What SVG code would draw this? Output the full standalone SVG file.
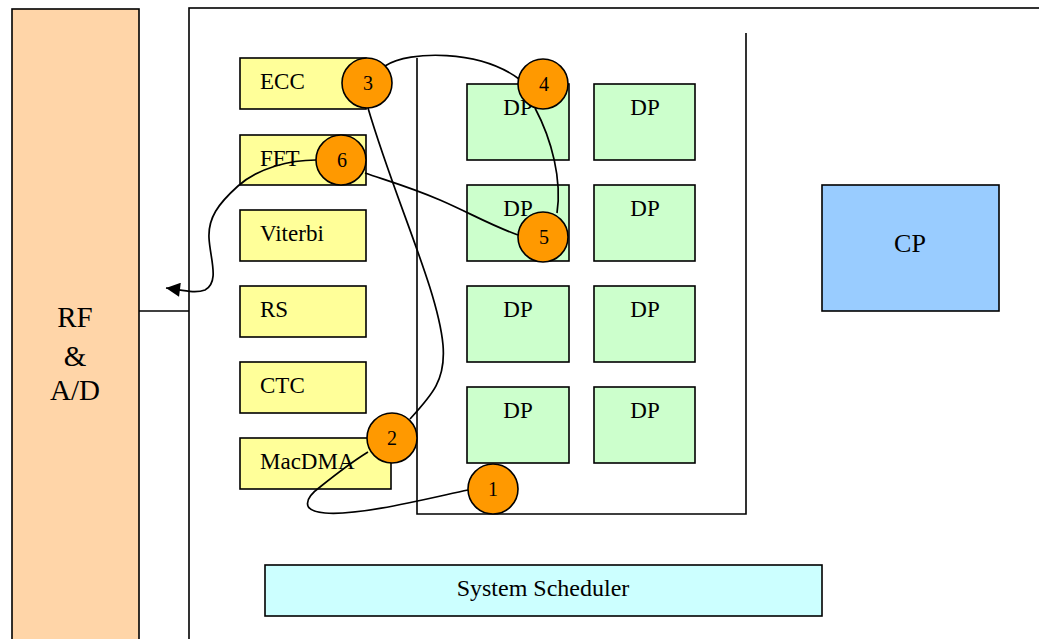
<svg xmlns="http://www.w3.org/2000/svg" width="1039" height="639" viewBox="0 0 1039 639">
<style>
.box{stroke:#000;stroke-width:1.6}
.lbl{font-family:"Liberation Serif","Times New Roman",serif;font-size:23px;fill:#000}
.ctr{text-anchor:middle}
.acc{fill:#FFFF99}
.dp{fill:#CCFFCC}
.num{fill:#FF9900;stroke:#000;stroke-width:1.6}
.nt{font-family:"Liberation Serif","Times New Roman",serif;font-size:20px;text-anchor:middle;fill:#000}
.ln{fill:none;stroke:#000;stroke-width:1.6}
.conn{fill:none;stroke:#000;stroke-width:1.7}
</style>
<defs>
<marker id="arr" viewBox="0 0 10 10" refX="10" refY="5" markerWidth="15" markerHeight="14" markerUnits="userSpaceOnUse" orient="auto">
<path d="M0,0 L10,5 L0,10 z" fill="#000"/>
</marker>
</defs>
<rect width="1039" height="639" fill="#fff"/>

<g id="rf">
<rect class="box" x="12" y="9" width="127" height="700" fill="#FFD5A8"/>
<text class="lbl ctr" x="75" y="327" style="font-size:29px">RF</text>
<text class="lbl ctr" x="75" y="366" style="font-size:29px">&amp;</text>
<text class="lbl ctr" x="75" y="400" style="font-size:29px">A/D</text>
</g>

<g id="chip">
<rect class="box" x="189" y="8" width="900" height="700" fill="#fff"/>
<line class="ln" x1="139" y1="311" x2="189" y2="311"/>
</g>

<g id="ecc"><rect class="box acc" x="240" y="58" width="126" height="51"/><text class="lbl" x="260" y="89">ECC</text></g>
<g id="fft"><rect class="box acc" x="240" y="135" width="126" height="50"/><text class="lbl" x="260" y="166">FFT</text></g>
<g id="viterbi"><rect class="box acc" x="240" y="210" width="126" height="51"/><text class="lbl" x="260" y="241">Viterbi</text></g>
<g id="rs"><rect class="box acc" x="240" y="286" width="126" height="51"/><text class="lbl" x="260" y="317">RS</text></g>
<g id="ctc"><rect class="box acc" x="240" y="362" width="126" height="51"/><text class="lbl" x="260" y="393">CTC</text></g>
<g id="macdma"><rect class="box acc" x="240" y="438" width="151" height="51"/><text class="lbl" x="260" y="469">MacDMA</text></g>

<g id="dp-array">
<polyline class="ln" points="417,58 417,514 746,514 746,33"/>
</g>

<g id="dp11"><rect class="box dp" x="467" y="84" width="102" height="76"/><text class="lbl ctr" x="518" y="115">DP</text></g>
<g id="dp12"><rect class="box dp" x="594" y="84" width="101" height="76"/><text class="lbl ctr" x="645" y="115">DP</text></g>
<g id="dp21"><rect class="box dp" x="467" y="185" width="102" height="76"/><text class="lbl ctr" x="518" y="216">DP</text></g>
<g id="dp22"><rect class="box dp" x="594" y="185" width="101" height="76"/><text class="lbl ctr" x="645" y="216">DP</text></g>
<g id="dp31"><rect class="box dp" x="467" y="286" width="102" height="76"/><text class="lbl ctr" x="518" y="317">DP</text></g>
<g id="dp32"><rect class="box dp" x="594" y="286" width="101" height="76"/><text class="lbl ctr" x="645" y="317">DP</text></g>
<g id="dp41"><rect class="box dp" x="467" y="387" width="102" height="76"/><text class="lbl ctr" x="518" y="418">DP</text></g>
<g id="dp42"><rect class="box dp" x="594" y="387" width="101" height="76"/><text class="lbl ctr" x="645" y="418">DP</text></g>

<g id="cp"><rect class="box" x="822" y="185" width="177" height="126" fill="#99CCFF"/><text class="lbl ctr" x="910" y="252" style="font-size:26px">CP</text></g>

<g id="scheduler"><rect class="box" x="265" y="565" width="557" height="51" fill="#CCFFFF"/><text class="lbl ctr" x="543" y="596" style="font-size:24px">System Scheduler</text></g>

<g id="connectors">
<path class="conn" d="M468,490 C430,498 360,516 325,513 C300,511 305,498 320,487 C335,475 355,460 368,452"/>
<path class="conn" d="M410,419 C432,395 446,380 443,345 C438,290 395,200 368,108"/>
<path class="conn" d="M385,66 C410,50 480,50 519,79"/>
<path class="conn" d="M535,108 C552,140 562,180 557,213"/>
<path class="conn" d="M518,235 C490,225 470,213 440,200 C410,187 385,180 365,173"/>
<path class="conn" d="M316,160 C290,160 258,168 238,186 C218,204 208,218 209,238 C210,258 220,282 205,290 C195,294 182,290 166,288" marker-end="url(#arr)"/>
</g>

<g id="n1"><circle class="num" cx="493" cy="489" r="25"/><text class="nt" x="493" y="496">1</text></g>
<g id="n2"><circle class="num" cx="392" cy="438" r="25"/><text class="nt" x="392" y="445">2</text></g>
<g id="n3"><circle class="num" cx="367" cy="83" r="25"/><text class="nt" x="368" y="90">3</text></g>
<g id="n4"><circle class="num" cx="543" cy="84" r="25"/><text class="nt" x="544" y="91">4</text></g>
<g id="n5"><circle class="num" cx="543" cy="237" r="25"/><text class="nt" x="544" y="244">5</text></g>
<g id="n6"><circle class="num" cx="341" cy="160" r="25"/><text class="nt" x="342" y="167">6</text></g>
</svg>
